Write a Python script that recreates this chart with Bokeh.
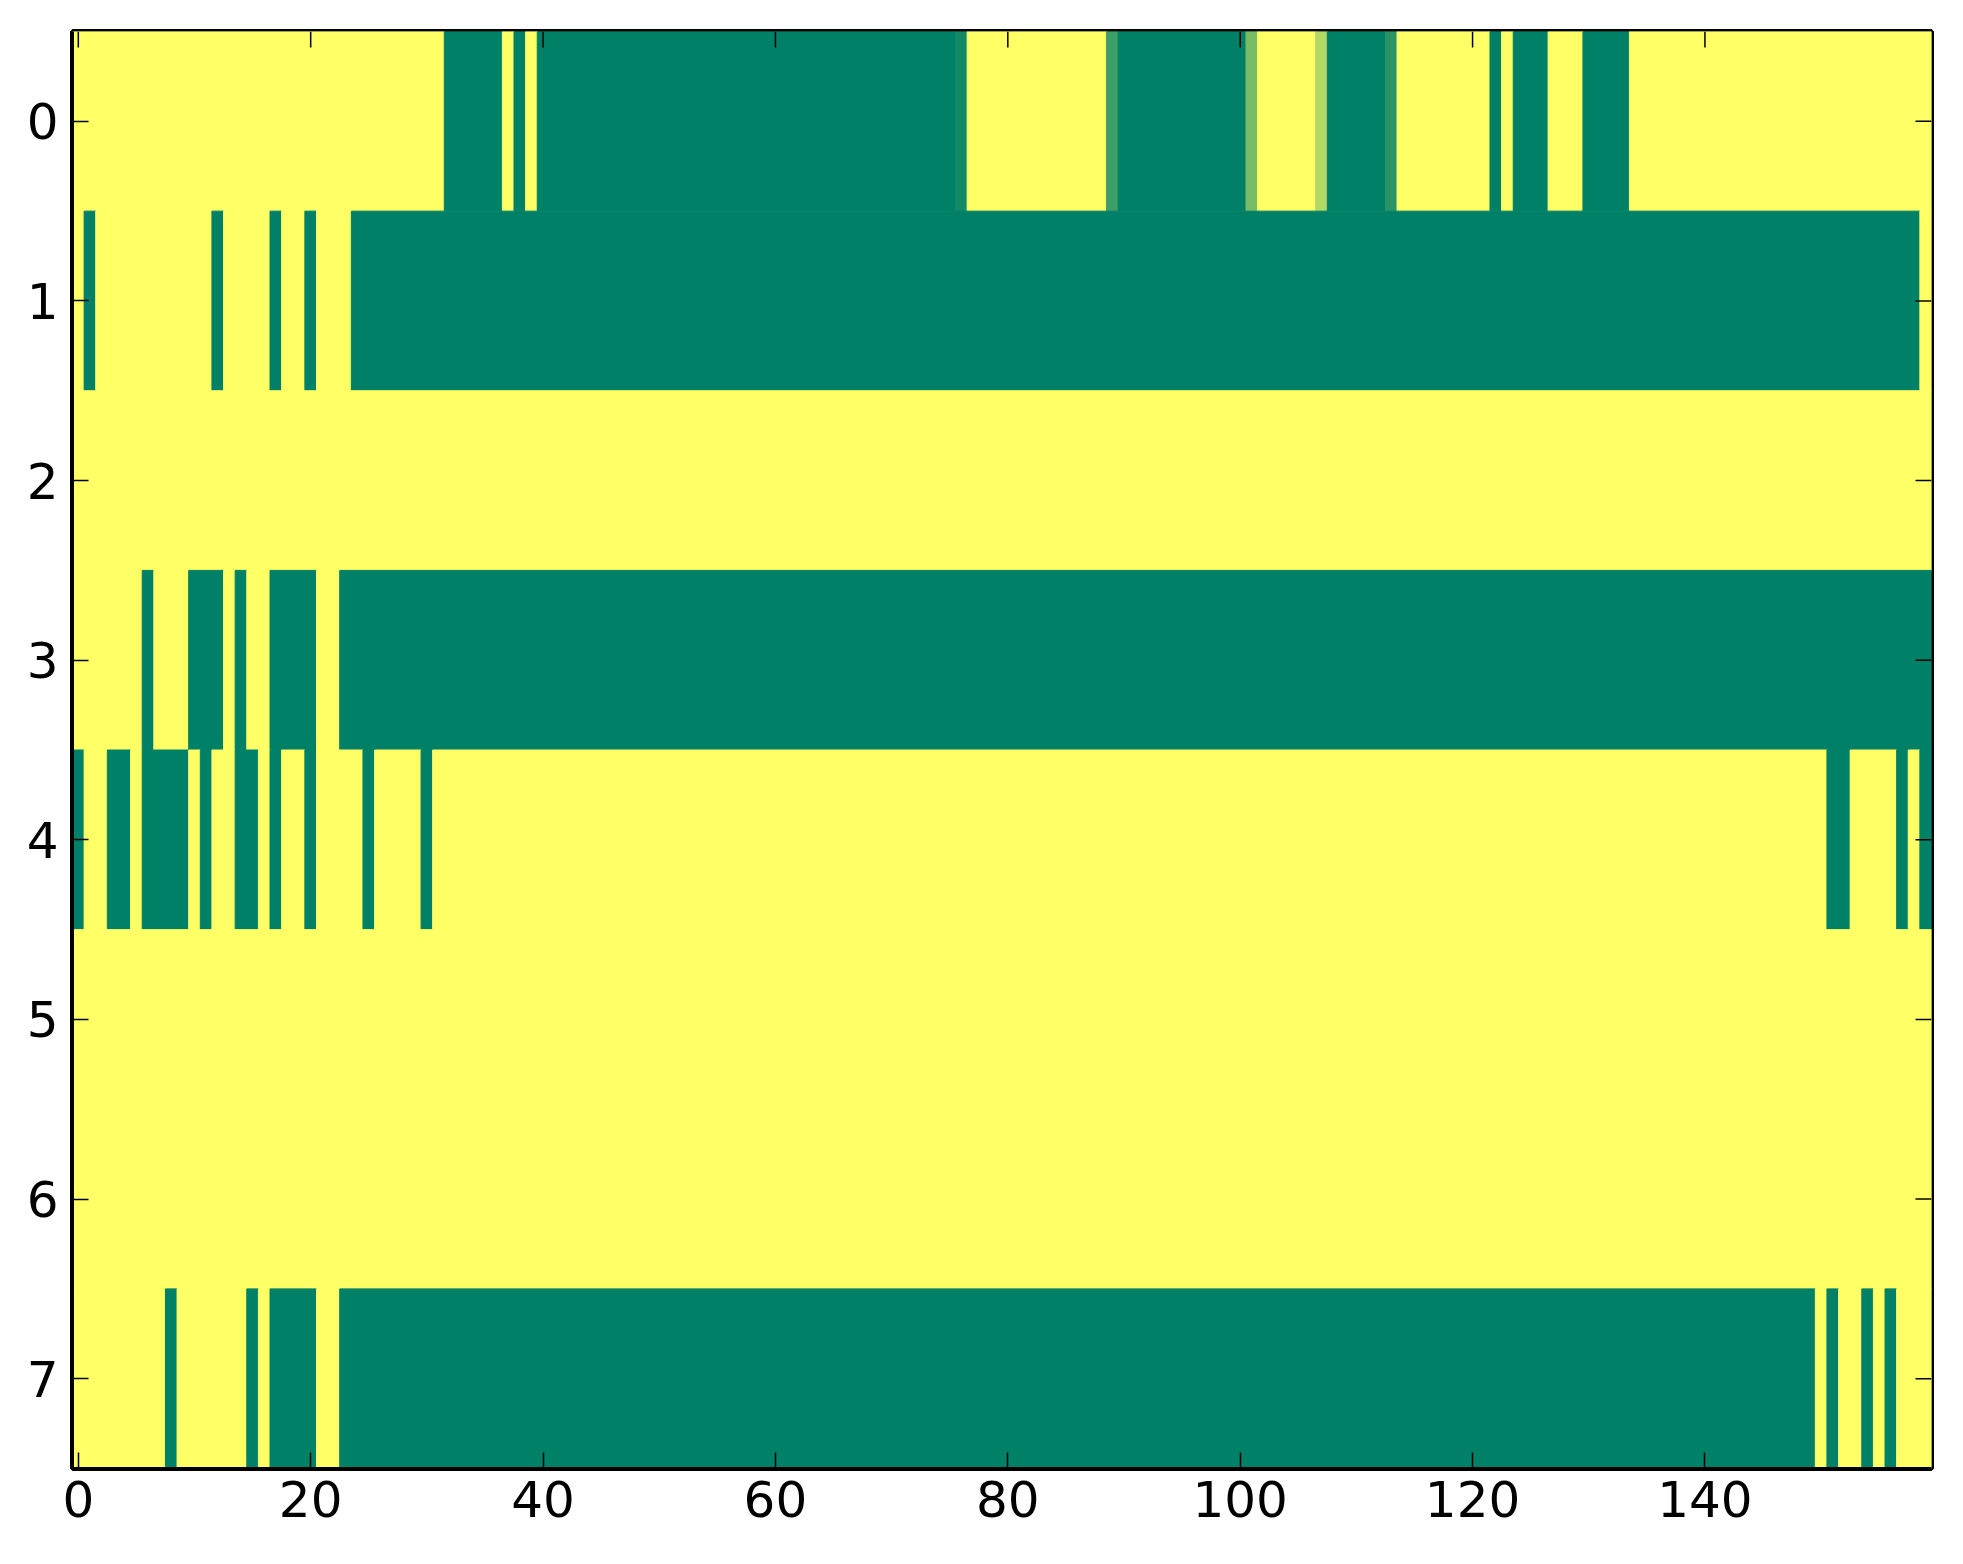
import math
from bokeh.plotting import figure
from bokeh.models import Range1d, FixedTicker, ColumnDataSource, LinearColorMapper
from bokeh.embed import file_html
from bokeh.resources import INLINE

# ---- data: 8 rows x 160 columns (0 = green end, 1 = yellow end of 'summer' map)
row0 = [
    1, 1, 1, 1, 1, 1, 1, 1, 1, 1, 1, 1, 1, 1, 1, 1, 1, 1, 1, 1,
    1, 1, 1, 1, 1, 1, 1, 1, 1, 1, 1, 1, 0, 0, 0, 0, 0, 1, 0, 1,
    0, 0, 0, 0, 0, 0, 0, 0, 0, 0, 0, 0, 0, 0, 0, 0, 0, 0, 0, 0,
    0, 0, 0, 0, 0, 0, 0, 0, 0, 0, 0, 0, 0, 0, 0, 0, 0.07, 1, 1, 1,
    1, 1, 1, 1, 1, 1, 1, 1, 1, 0.24, 0, 0, 0, 0, 0, 0, 0, 0, 0, 0,
    0, 0.48, 1, 1, 1, 1, 1, 0.70, 0, 0, 0, 0, 0, 0.165, 1, 1, 1, 1, 1, 1,
    1, 1, 0, 1, 0, 0, 0, 1, 1, 1, 0, 0, 0, 0, 1, 1, 1, 1, 1, 1,
    1, 1, 1, 1, 1, 1, 1, 1, 1, 1, 1, 1, 1, 1, 1, 1, 1, 1, 1, 1,
]
row1 = [
    1, 0, 1, 1, 1, 1, 1, 1, 1, 1, 1, 1, 0, 1, 1, 1, 1, 0, 1, 1,
    0, 1, 1, 1, 0, 0, 0, 0, 0, 0, 0, 0, 0, 0, 0, 0, 0, 0, 0, 0,
    0, 0, 0, 0, 0, 0, 0, 0, 0, 0, 0, 0, 0, 0, 0, 0, 0, 0, 0, 0,
    0, 0, 0, 0, 0, 0, 0, 0, 0, 0, 0, 0, 0, 0, 0, 0, 0, 0, 0, 0,
    0, 0, 0, 0, 0, 0, 0, 0, 0, 0, 0, 0, 0, 0, 0, 0, 0, 0, 0, 0,
    0, 0, 0, 0, 0, 0, 0, 0, 0, 0, 0, 0, 0, 0, 0, 0, 0, 0, 0, 0,
    0, 0, 0, 0, 0, 0, 0, 0, 0, 0, 0, 0, 0, 0, 0, 0, 0, 0, 0, 0,
    0, 0, 0, 0, 0, 0, 0, 0, 0, 0, 0, 0, 0, 0, 0, 0, 0, 0, 0, 1,
]
row2 = [
    1, 1, 1, 1, 1, 1, 1, 1, 1, 1, 1, 1, 1, 1, 1, 1, 1, 1, 1, 1,
    1, 1, 1, 1, 1, 1, 1, 1, 1, 1, 1, 1, 1, 1, 1, 1, 1, 1, 1, 1,
    1, 1, 1, 1, 1, 1, 1, 1, 1, 1, 1, 1, 1, 1, 1, 1, 1, 1, 1, 1,
    1, 1, 1, 1, 1, 1, 1, 1, 1, 1, 1, 1, 1, 1, 1, 1, 1, 1, 1, 1,
    1, 1, 1, 1, 1, 1, 1, 1, 1, 1, 1, 1, 1, 1, 1, 1, 1, 1, 1, 1,
    1, 1, 1, 1, 1, 1, 1, 1, 1, 1, 1, 1, 1, 1, 1, 1, 1, 1, 1, 1,
    1, 1, 1, 1, 1, 1, 1, 1, 1, 1, 1, 1, 1, 1, 1, 1, 1, 1, 1, 1,
    1, 1, 1, 1, 1, 1, 1, 1, 1, 1, 1, 1, 1, 1, 1, 1, 1, 1, 1, 1,
]
row3 = [
    1, 1, 1, 1, 1, 1, 0, 1, 1, 1, 0, 0, 0, 1, 0, 1, 1, 0, 0, 0,
    0, 1, 1, 0, 0, 0, 0, 0, 0, 0, 0, 0, 0, 0, 0, 0, 0, 0, 0, 0,
    0, 0, 0, 0, 0, 0, 0, 0, 0, 0, 0, 0, 0, 0, 0, 0, 0, 0, 0, 0,
    0, 0, 0, 0, 0, 0, 0, 0, 0, 0, 0, 0, 0, 0, 0, 0, 0, 0, 0, 0,
    0, 0, 0, 0, 0, 0, 0, 0, 0, 0, 0, 0, 0, 0, 0, 0, 0, 0, 0, 0,
    0, 0, 0, 0, 0, 0, 0, 0, 0, 0, 0, 0, 0, 0, 0, 0, 0, 0, 0, 0,
    0, 0, 0, 0, 0, 0, 0, 0, 0, 0, 0, 0, 0, 0, 0, 0, 0, 0, 0, 0,
    0, 0, 0, 0, 0, 0, 0, 0, 0, 0, 0, 0, 0, 0, 0, 0, 0, 0, 0, 0,
]
row4 = [
    0, 1, 1, 0, 0, 1, 0, 0, 0, 0, 1, 0, 1, 1, 0, 0, 1, 0, 1, 1,
    0, 1, 1, 1, 1, 0, 1, 1, 1, 1, 0, 1, 1, 1, 1, 1, 1, 1, 1, 1,
    1, 1, 1, 1, 1, 1, 1, 1, 1, 1, 1, 1, 1, 1, 1, 1, 1, 1, 1, 1,
    1, 1, 1, 1, 1, 1, 1, 1, 1, 1, 1, 1, 1, 1, 1, 1, 1, 1, 1, 1,
    1, 1, 1, 1, 1, 1, 1, 1, 1, 1, 1, 1, 1, 1, 1, 1, 1, 1, 1, 1,
    1, 1, 1, 1, 1, 1, 1, 1, 1, 1, 1, 1, 1, 1, 1, 1, 1, 1, 1, 1,
    1, 1, 1, 1, 1, 1, 1, 1, 1, 1, 1, 1, 1, 1, 1, 1, 1, 1, 1, 1,
    1, 1, 1, 1, 1, 1, 1, 1, 1, 1, 1, 0, 0, 1, 1, 1, 1, 0, 1, 0,
]
row5 = [
    1, 1, 1, 1, 1, 1, 1, 1, 1, 1, 1, 1, 1, 1, 1, 1, 1, 1, 1, 1,
    1, 1, 1, 1, 1, 1, 1, 1, 1, 1, 1, 1, 1, 1, 1, 1, 1, 1, 1, 1,
    1, 1, 1, 1, 1, 1, 1, 1, 1, 1, 1, 1, 1, 1, 1, 1, 1, 1, 1, 1,
    1, 1, 1, 1, 1, 1, 1, 1, 1, 1, 1, 1, 1, 1, 1, 1, 1, 1, 1, 1,
    1, 1, 1, 1, 1, 1, 1, 1, 1, 1, 1, 1, 1, 1, 1, 1, 1, 1, 1, 1,
    1, 1, 1, 1, 1, 1, 1, 1, 1, 1, 1, 1, 1, 1, 1, 1, 1, 1, 1, 1,
    1, 1, 1, 1, 1, 1, 1, 1, 1, 1, 1, 1, 1, 1, 1, 1, 1, 1, 1, 1,
    1, 1, 1, 1, 1, 1, 1, 1, 1, 1, 1, 1, 1, 1, 1, 1, 1, 1, 1, 1,
]
row6 = [
    1, 1, 1, 1, 1, 1, 1, 1, 1, 1, 1, 1, 1, 1, 1, 1, 1, 1, 1, 1,
    1, 1, 1, 1, 1, 1, 1, 1, 1, 1, 1, 1, 1, 1, 1, 1, 1, 1, 1, 1,
    1, 1, 1, 1, 1, 1, 1, 1, 1, 1, 1, 1, 1, 1, 1, 1, 1, 1, 1, 1,
    1, 1, 1, 1, 1, 1, 1, 1, 1, 1, 1, 1, 1, 1, 1, 1, 1, 1, 1, 1,
    1, 1, 1, 1, 1, 1, 1, 1, 1, 1, 1, 1, 1, 1, 1, 1, 1, 1, 1, 1,
    1, 1, 1, 1, 1, 1, 1, 1, 1, 1, 1, 1, 1, 1, 1, 1, 1, 1, 1, 1,
    1, 1, 1, 1, 1, 1, 1, 1, 1, 1, 1, 1, 1, 1, 1, 1, 1, 1, 1, 1,
    1, 1, 1, 1, 1, 1, 1, 1, 1, 1, 1, 1, 1, 1, 1, 1, 1, 1, 1, 1,
]
row7 = [
    1, 1, 1, 1, 1, 1, 1, 1, 0, 1, 1, 1, 1, 1, 1, 0, 1, 0, 0, 0,
    0, 1, 1, 0, 0, 0, 0, 0, 0, 0, 0, 0, 0, 0, 0, 0, 0, 0, 0, 0,
    0, 0, 0, 0, 0, 0, 0, 0, 0, 0, 0, 0, 0, 0, 0, 0, 0, 0, 0, 0,
    0, 0, 0, 0, 0, 0, 0, 0, 0, 0, 0, 0, 0, 0, 0, 0, 0, 0, 0, 0,
    0, 0, 0, 0, 0, 0, 0, 0, 0, 0, 0, 0, 0, 0, 0, 0, 0, 0, 0, 0,
    0, 0, 0, 0, 0, 0, 0, 0, 0, 0, 0, 0, 0, 0, 0, 0, 0, 0, 0, 0,
    0, 0, 0, 0, 0, 0, 0, 0, 0, 0, 0, 0, 0, 0, 0, 0, 0, 0, 0, 0,
    0, 0, 0, 0, 0, 0, 0, 0, 0, 0, 1, 0, 1, 1, 0, 1, 0, 1, 1, 1,
]
rows = [row0, row1, row2, row3, row4, row5, row6, row7]

x_ticks = [0, 20, 40, 60, 80, 100, 120, 140]
y_ticks = [0, 1, 2, 3, 4, 5, 6, 7]

# matplotlib 'summer' colormap: (t, 0.5 + 0.5 t, 0.4)
summer = ["#%02x%02x%02x" % (round(t), round(255 * 0.5 + 0.5 * t), 102) for t in range(256)]
mapper = LinearColorMapper(palette=summer, low=0, high=1)

# group consecutive equal cells of each row into runs (no seams between cells)
left, right, top, bottom, vals = [], [], [], [], []
for r, row in enumerate(rows):
    start = 0
    for c in range(1, len(row) + 1):
        if c == len(row) or row[c] != row[start]:
            left.append(start - 0.5)
            right.append(c - 0.5)
            top.append(r - 0.5)
            bottom.append(r + 0.5)
            vals.append(row[start])
            start = c
src = ColumnDataSource(dict(left=left, right=right, top=top, bottom=bottom, v=vals))

ncol = len(row0)
nrow = len(rows)

p = figure(width=1951, height=1547, output_backend="svg", toolbar_location=None,
           x_range=Range1d(-0.5, ncol - 0.5), y_range=Range1d(nrow - 0.5, -0.5),
           min_border_left=72, min_border_right=20, min_border_top=31, min_border_bottom=79)
p.background_fill_color = "white"
p.border_fill_color = "white"
p.grid.visible = False

p.quad(left="left", right="right", top="top", bottom="bottom", source=src,
       fill_color={"field": "v", "transform": mapper},
       line_color={"field": "v", "transform": mapper}, line_width=1)

FONT = "DejaVu Sans"
for ax, ticks in ((p.xaxis[0], x_ticks), (p.yaxis[0], y_ticks)):
    ax.ticker = FixedTicker(ticks=ticks)
    ax.major_tick_in = 16
    ax.major_tick_out = 0
    ax.minor_tick_in = 0
    ax.minor_tick_out = 0
    ax.major_tick_line_width = 1.5
    ax.major_tick_line_color = "black"
    ax.axis_line_width = 3
    ax.axis_line_color = "black"
    ax.major_label_text_font = FONT
    ax.major_label_text_color = "black"
    ax.major_label_text_font_size = "50px"
p.xaxis[0].major_label_standoff = 12
p.yaxis[0].major_label_standoff = 14

# mirrored inward ticks on the top and right edges
tick_src_top = ColumnDataSource(dict(x=x_ticks, y=[-0.5] * len(x_ticks)))
tick_src_right = ColumnDataSource(dict(x=[ncol - 0.5] * len(y_ticks), y=y_ticks))
p.ray(x="x", y="y", source=tick_src_top, length=16, length_units="screen",
      angle=-math.pi / 2, line_color="black", line_width=1.5)
p.ray(x="x", y="y", source=tick_src_right, length=16, length_units="screen",
      angle=math.pi, line_color="black", line_width=1.5)

p.outline_line_color = "black"
p.outline_line_width = 5

open("out.html", "w").write(file_html(p, INLINE))
